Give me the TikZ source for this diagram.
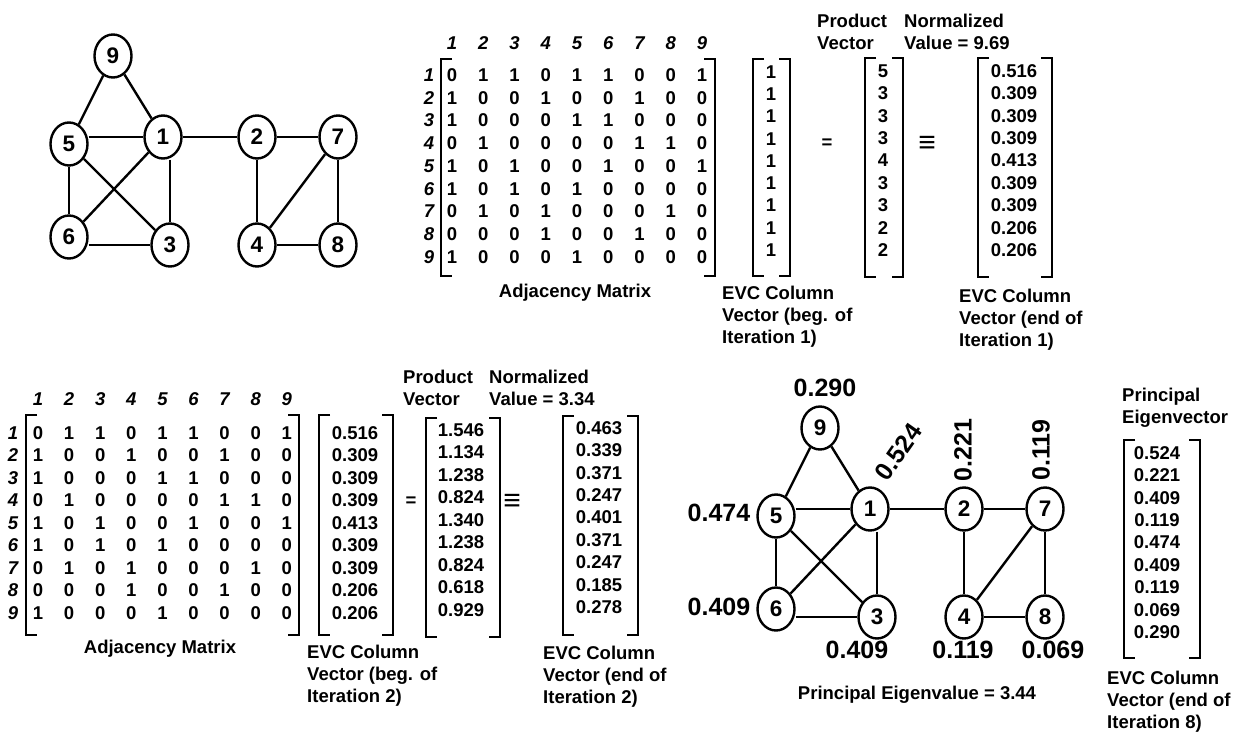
\documentclass[tikz,border=0pt]{standalone}
\usepackage{fontspec}
\setmainfont{Liberation Sans}
\usetikzlibrary{shapes.geometric}

\tikzset{
  vertex/.style={draw, ellipse, line width=2.4pt, minimum width=37pt, minimum height=43pt,
    inner sep=0pt, font=\fontsize{22.5}{25}\selectfont\bfseries},
  edge/.style={line width=2.4pt},
  brk/.style={line width=2.6pt},
  cell/.style={inner sep=0pt, font=\fontsize{18.5}{22}\selectfont\bfseries},
  idx/.style={inner sep=0pt, font=\fontsize{18.5}{22}\selectfont\bfseries\itshape},
  caption/.style={inner sep=0pt, align=left, anchor=north west, font=\fontsize{18.5}{22}\selectfont\bfseries},
  score/.style={inner sep=0pt, font=\fontsize{25}{28}\selectfont\bfseries},
  ident/.style={inner sep=0pt, font=\fontsize{30}{30}\selectfont\bfseries}
}

% left x, right x, top y, bottom y
\newcommand{\vecbrackets}[4]{%
  \draw[brk] ({#1+11},#3) -- (#1,#3) -- (#1,#4) -- ({#1+11},#4);
  \draw[brk] ({#2-11},#3) -- (#2,#3) -- (#2,#4) -- ({#2-11},#4);}

\def\adjrows{1/{0,1,1,0,1,1,0,0,1}, 2/{1,0,0,1,0,0,1,0,0}, 3/{1,0,0,0,1,1,0,0,0},
  4/{0,1,0,0,0,0,1,1,0}, 5/{1,0,1,0,0,1,0,0,1}, 6/{1,0,1,0,1,0,0,0,0},
  7/{0,1,0,1,0,0,0,1,0}, 8/{0,0,0,1,0,0,1,0,0}, 9/{1,0,0,0,1,0,0,0,0}}

\begin{document}
\begin{tikzpicture}[x=1pt, y=-1pt]
\useasboundingbox (0,0) rectangle (1242,733);

% graph, top left
\foreach \n/\x/\y in {9/113/56, 5/69/144, 1/163/137, 2/257/137, 7/338/137,
                      6/69/237, 3/170/245, 4/257/245, 8/338/245}
  \node[vertex] (a\n) at (\x,\y) {\n};
\foreach \s/\t in {9/5, 9/1, 1/2, 2/7, 5/6, 5/3, 1/6, 2/4, 7/4, 7/8, 4/8}
  \draw[edge] (a\s) -- (a\t);
\draw[edge] (a5.east |- a1.west) -- (a1.west);
\draw[edge] (a6.east |- a3.west) -- (a3.west);
\draw[edge] (a1.south -| a3.north) -- (a3.north);

% iteration 1
\foreach \c in {1,...,9}
  \node[idx] (ca\c) at ({452+31.25*(\c-1)},43) {\c};
\foreach \r/\row in \adjrows {
  \node[idx] (ra\r) at (429,{75+22.75*(\r-1)}) {\r};
  \foreach \v [count=\c] in \row
    \node[cell] (ma\r-\c) at ({452+31.25*(\c-1)},{75+22.75*(\r-1)}) {\v};
}
\vecbrackets{441}{715}{59}{276}
\node[cell] (adja) at (575,293) {Adjacency Matrix};

\foreach \i in {1,...,9}
  \node[cell] (ea\i) at (771,{72+22.25*(\i-1)}) {1};
\vecbrackets{753}{790}{59}{276}
\node[caption] (capa) at (722,286) {EVC Column\\Vector (beg. of\\Iteration 1)};

\node[cell] (eqa) at (827,144) {=};
\node[caption] (proda) at (817,14) {Product\\Vector};
\foreach \v [count=\i] in {5,3,3,3,4,3,3,2,2}
  \node[cell] (pa\i) at (883,{71+22.4*(\i-1)}) {\v};
\vecbrackets{865}{903}{58}{277}

\node[ident] (idnta) at (927,144) {≡};
\node[caption] (norma) at (904,14) {Normalized\\Value = 9.69};
\foreach \v [count=\i] in {0.516,0.309,0.309,0.309,0.413,0.309,0.309,0.206,0.206}
  \node[cell] (na\i) at (1014,{71+22.4*(\i-1)}) {\v};
\vecbrackets{978}{1052}{58}{277}
\node[caption] (capna) at (959,289) {EVC Column\\Vector (end of\\Iteration 1)};

% iteration 2
\foreach \c in {1,...,9}
  \node[idx] (cb\c) at ({38+31.1*(\c-1)},399) {\c};
\foreach \r/\row in \adjrows {
  \node[idx] (rb\r) at (13,{433+22.5*(\r-1)}) {\r};
  \foreach \v [count=\c] in \row
    \node[cell] (mb\r-\c) at ({38+31.1*(\c-1)},{433+22.5*(\r-1)}) {\v};
}
\vecbrackets{26}{299}{415}{635}
\node[cell] (adjb) at (160,649) {Adjacency Matrix};

\foreach \v [count=\i] in {0.516,0.309,0.309,0.309,0.413,0.309,0.309,0.206,0.206}
  \node[cell] (eb\i) at (355,{433+22.5*(\i-1)}) {\v};
\vecbrackets{319}{393}{415}{635}
\node[caption] (capb) at (307,645) {EVC Column\\Vector (beg. of\\Iteration 2)};

\node[cell] (eqb) at (411,502) {=};
\node[caption] (prodb) at (403,370) {Product\\Vector};
\foreach \v [count=\i] in {1.546,1.134,1.238,0.824,1.340,1.238,0.824,0.618,0.929}
  \node[cell] (pb\i) at (461,{430+22.5*(\i-1)}) {\v};
\vecbrackets{426}{500}{418}{637}

\node[ident] (idntb) at (512,502) {≡};
\node[caption] (normb) at (489,370) {Normalized\\Value = 3.34};
\foreach \v [count=\i] in {0.463,0.339,0.371,0.247,0.401,0.371,0.247,0.185,0.278}
  \node[cell] (nb\i) at (599,{428+22.4*(\i-1)}) {\v};
\vecbrackets{563}{638}{416}{635}
\node[caption] (capnb) at (543,646) {EVC Column\\Vector (end of\\Iteration 2)};

% graph with final scores
\begin{scope}[shift={(707,372)}]
\foreach \n/\x/\y in {9/113/56, 5/69/144, 1/163/137, 2/257/137, 7/338/137,
                      6/69/237, 3/170/245, 4/257/245, 8/338/245}
  \node[vertex] (b\n) at (\x,\y) {\n};
\foreach \s/\t in {9/5, 9/1, 1/2, 2/7, 5/6, 5/3, 1/6, 2/4, 7/4, 7/8, 4/8}
  \draw[edge] (b\s) -- (b\t);
\draw[edge] (b5.east |- b1.west) -- (b1.west);
\draw[edge] (b6.east |- b3.west) -- (b3.west);
\draw[edge] (b1.south -| b3.north) -- (b3.north);
\end{scope}
\node[score] (s9) at (825,388) {0.290};
\node[score, rotate=55] (s1) at (898,452) {0.524};
\node[score, rotate=90] (s2) at (963,450) {0.221};
\node[score, rotate=90] (s7) at (1041,450) {0.119};
\node[score] (s5) at (719,513) {0.474};
\node[score] (s6) at (719,607) {0.409};
\node[score] (s3) at (857,650) {0.409};
\node[score] (s4) at (963,650) {0.119};
\node[score] (s8) at (1053,650) {0.069};
\node[cell] (eigval) at (917,695) {Principal Eigenvalue = 3.44};

\node[caption] (princ) at (1122,388) {Principal\\Eigenvector};
\foreach \v [count=\i] in {0.524,0.221,0.409,0.119,0.474,0.409,0.119,0.069,0.290}
  \node[cell] (pv\i) at (1157,{453+22.4*(\i-1)}) {\v};
\vecbrackets{1124}{1200}{440}{658}
\node[caption] (capc) at (1107,671) {EVC Column\\Vector (end of\\Iteration 8)};
\end{tikzpicture}
\end{document}
